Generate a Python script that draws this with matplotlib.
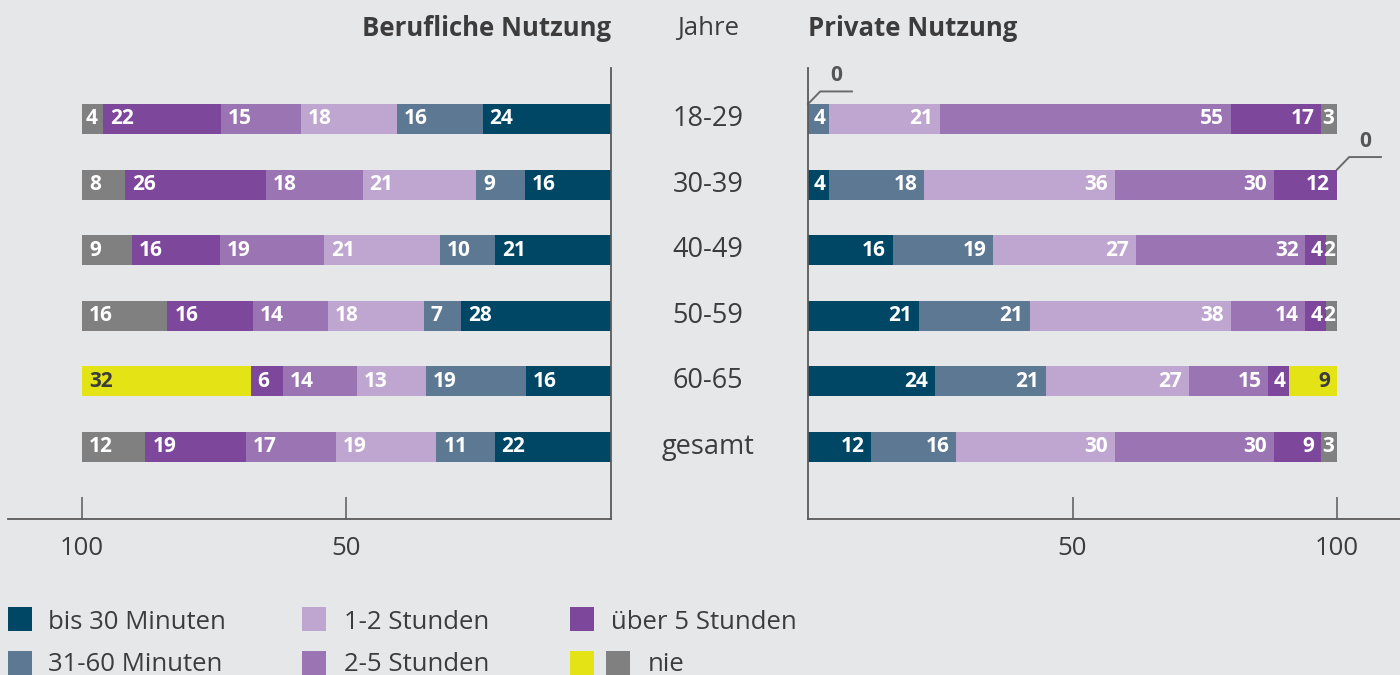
import matplotlib
matplotlib.use("Agg")
import matplotlib.pyplot as plt
from matplotlib.patches import Rectangle
from matplotlib.lines import Line2D
from matplotlib.transforms import blended_transform_factory
import numpy as np

# ---------------- data ----------------
ages = ["18-29", "30-39", "40-49", "50-59", "60-65", "gesamt"]
categories = ["bis 30 Minuten", "31-60 Minuten", "1-2 Stunden",
              "2-5 Stunden", "über 5 Stunden", "nie"]

beruf_bis30 = [24, 16, 21, 28, 16, 22]
beruf_31_60 = [16, 9, 10, 7, 19, 11]
beruf_1_2 = [18, 21, 21, 18, 13, 19]
beruf_2_5 = [15, 18, 19, 14, 14, 17]
beruf_ueber5 = [22, 26, 16, 16, 6, 19]
beruf_nie = [4, 8, 9, 16, 32, 12]

privat_bis30 = [0, 4, 16, 21, 24, 12]
privat_31_60 = [4, 18, 19, 21, 21, 16]
privat_1_2 = [21, 36, 27, 38, 27, 30]
privat_2_5 = [55, 30, 32, 14, 15, 30]
privat_ueber5 = [17, 12, 4, 4, 4, 9]
privat_nie = [3, 0, 2, 2, 9, 3]

highlight_age = "60-65"
left_ticks = [100, 50]
right_ticks = [50, 100]

# ---------------- style ----------------
BG = "#e6e7e9"
TXT = "#3c3c3c"
AXC = "#5a5a5a"
colors = ["#004766", "#5d7893", "#bfa6d0", "#9b75b3", "#7d479b", "#808080"]
YELLOW = "#e3e316"
FONT = "Open Sans"
FS = 18.5
FS_BAR = 15

plt.rcParams["font.family"] = [FONT, "DejaVu Sans"]

W, H = 1400, 675
fig = plt.figure(figsize=(W / 100, H / 100), dpi=100, facecolor=BG)


def fx(px):
    return px / W


def fy(py):
    return 1 - py / H


row0, row_step = 119.0, 65.6
ax_top, ax_bot = 68, 519
ylim_top = (ax_top - row0) / row_step
ylim_bot = (ax_bot - row0) / row_step
bar_h = 30 / row_step

# left axes: 8 .. 611 px ; right axes: 808 .. 1400 px
axL = fig.add_axes([fx(8), fy(ax_bot), fx(611 - 8), fy(ax_top) - fy(ax_bot)])
axR = fig.add_axes([fx(808), fy(ax_bot), fx(1400 - 808), fy(ax_top) - fy(ax_bot)])
px_per_unit = (611 - 82) / 100.0
axL.set_xlim((611 - 8) / px_per_unit, 0)
axR.set_xlim(0, (1400 - 808) / px_per_unit)
for ax in (axL, axR):
    ax.set_facecolor("none")
    ax.set_ylim(ylim_bot, ylim_top)
    ax.set_yticks([])
    for s in ax.spines.values():
        s.set_color(AXC)
        s.set_linewidth(1.3)
    ax.spines["top"].set_visible(False)
    ax.tick_params(axis="x", direction="in", length=16, width=1.1, color=AXC,
                   labelsize=FS, labelcolor=TXT, pad=12)
axL.spines["left"].set_visible(False)
axR.spines["right"].set_visible(False)
axL.set_xticks(left_ticks)
axL.set_xticklabels([str(t) for t in left_ticks])
axR.set_xticks(right_ticks)
axR.set_xticklabels([str(t) for t in right_ticks])

beruf = [beruf_bis30, beruf_31_60, beruf_1_2, beruf_2_5, beruf_ueber5, beruf_nie]
privat = [privat_bis30, privat_31_60, privat_1_2, privat_2_5, privat_ueber5, privat_nie]


def draw_panel(ax, series, side):
    data = np.array(series, dtype=float)  # categories x rows
    for r, age in enumerate(ages):
        vals = data[:, r]
        total = vals.sum()
        widths = vals * 100.0 / total
        cum = 0.0
        for c in range(len(categories)):
            w = widths[c]
            col = colors[c]
            txtc = "white"
            if c == len(categories) - 1 and age == highlight_age:
                col = YELLOW
                txtc = TXT
            if vals[c] > 0:
                ax.barh(r, w, left=cum, height=bar_h, color=col, linewidth=0)
                pad = min(1.3, w * 0.18)
                ax.text(cum + w - pad, r, f"{int(vals[c])}",
                        ha="left" if side == "L" else "right", va="center",
                        color=txtc, fontsize=FS_BAR, fontweight="bold")
            else:
                # zero value annotation with leader line
                y0 = r - bar_h / 2
                yl = r - 0.42
                ax.add_line(Line2D([cum, cum + 2.3, cum + 8.3], [y0, yl, yl],
                                   color="#6a6a6a", lw=1.4, clip_on=False))
                ax.text(cum + 5.3, r - 0.66, "0", ha="center", va="center",
                        color="#555555", fontsize=FS_BAR, fontweight="bold",
                        clip_on=False)
            cum += w


draw_panel(axL, beruf, "L")
draw_panel(axR, privat, "R")

# age labels in the middle
trans = blended_transform_factory(fig.transFigure, axL.transData)
for r, age in enumerate(ages):
    fig.text(fx(708), r, age, transform=trans, ha="center", va="center",
             fontsize=FS + 1, color=TXT)

# headers
fig.text(fx(611), fy(29), "Berufliche Nutzung", ha="right", va="center",
         fontsize=FS, fontweight="bold", color=TXT)
fig.text(fx(708), fy(29), "Jahre", ha="center", va="center",
         fontsize=FS, color=TXT)
fig.text(fx(808), fy(29), "Private Nutzung", ha="left", va="center",
         fontsize=FS, fontweight="bold", color=TXT)

# legend (square top y, baseline y of text)
legend_items = [
    (8, 607, 629, [colors[0]], 48, categories[0]),
    (302, 607, 629, [colors[2]], 344, categories[2]),
    (570, 607, 629, [colors[4]], 611, categories[4]),
    (8, 651, 671, [colors[1]], 48, categories[1]),
    (302, 651, 671, [colors[3]], 344, categories[3]),
    (570, 651, 671, [YELLOW, colors[5]], 648, categories[5]),
]
for x, y, base, cols, tx, label in legend_items:
    for i, col in enumerate(cols):
        fig.add_artist(Rectangle((fx(x + i * 36), fy(y + 24)), fx(24), 24 / H,
                                 transform=fig.transFigure, facecolor=col,
                                 edgecolor="none"))
    fig.text(fx(tx), fy(base), label, ha="left", va="baseline",
             fontsize=FS, color=TXT)

fig.savefig("out.png", dpi=100, facecolor=BG)
